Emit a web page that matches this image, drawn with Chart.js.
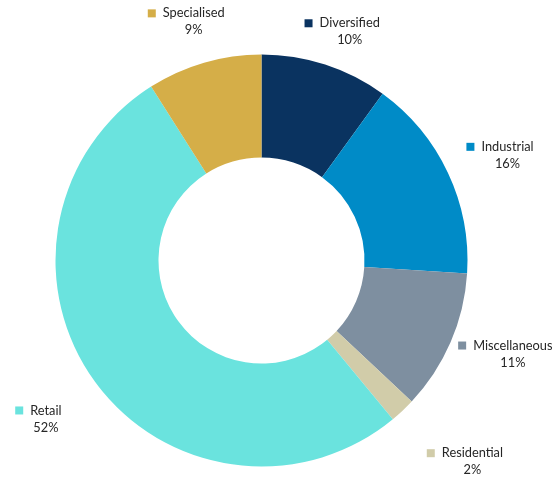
<!DOCTYPE html>
<html>
<head>
<meta charset="utf-8">
<script src="https://cdn.jsdelivr.net/npm/chart.js@4"></script>
<style>
  html, body { margin: 0; padding: 0; background: #fff; }
  #wrap { width: 556px; height: 477px; }
</style>
</head>
<body>
<div id="wrap"><canvas id="sectorChart"></canvas></div>
<script>
// ── Data ─────────────────────────────────────────────────────
const sectors = ['Diversified', 'Industrial', 'Miscellaneous', 'Residential', 'Retail', 'Specialised'];
const shares  = [10, 16, 11, 2, 52, 9];
const colours = ['#0a3360', '#008bc7', '#7e8fa0', '#d1cca9', '#6ae3de', '#d5ae48'];

// Radial gap between ring and each label block (Excel-style outside labels)
const LABEL_GAP = [17.5, 24, 12.5, 53, 46.6, 25.5];

// ── Outside labels: legend square + name, percentage underneath ──
const outsideLabels = {
  id: 'outsideLabels',
  afterDatasetsDraw(chart) {
    const ctx  = chart.ctx;
    const meta = chart.getDatasetMeta(0);
    ctx.save();
    ctx.font = '12.8px Lato';
    ctx.textBaseline = 'middle';

    meta.data.forEach((arc, i) => {
      const { x: cx, y: cy, startAngle, endAngle, outerRadius } = arc.getProps(
        ['x', 'y', 'startAngle', 'endAngle', 'outerRadius'], true);
      const mid = (startAngle + endAngle) / 2;   // canvas angle (0 = 3 o'clock)
      const ux = Math.cos(mid), uy = Math.sin(mid);

      const name  = sectors[i];
      const pct   = shares[i] + '%';
      const textW = ctx.measureText(name).width;
      const W = 15 + textW, H = 34;

      const r  = outerRadius + LABEL_GAP[i];
      const bx = cx + ux * r + ux * W / 2;
      const by = cy + uy * r + uy * H / 2;

      const left  = bx - W / 2;
      const line1 = by - 8.5;
      const line2 = by + 8.5;

      ctx.fillStyle = colours[i];
      ctx.fillRect(left, line1 - 4, 8, 8);

      ctx.fillStyle = '#262626';
      ctx.textAlign = 'left';
      ctx.fillText(name, left + 15, line1);
      ctx.textAlign = 'center';
      ctx.fillText(pct, left + 15 + textW / 2, line2);
    });
    ctx.restore();
  }
};

new Chart(document.getElementById('sectorChart'), {
  type: 'doughnut',
  data: {
    labels: sectors,
    datasets: [{
      data:            shares,
      backgroundColor: colours,
      borderWidth:     0
    }]
  },
  options: {
    responsive: true, maintainAspectRatio: false,
    animation: false,
    cutout: '50%',
    layout: { padding: { left: 55.5, right: 88.5, top: 54.5, bottom: 10.5 } },
    plugins: {
      legend:  { display: false },
      tooltip: { enabled: false }
    }
  },
  plugins: [outsideLabels]
});
</script>
</body>
</html>
